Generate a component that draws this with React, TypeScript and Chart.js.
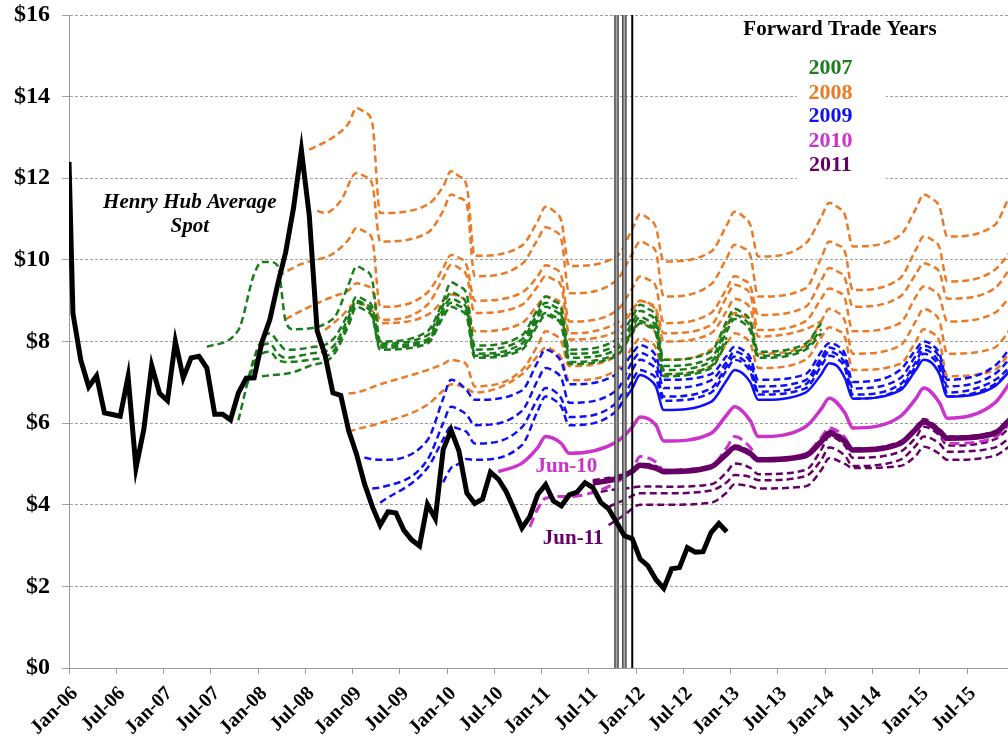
import React, { useEffect, useRef } from "react";
import { Chart, registerables } from "chart.js";

Chart.register(...registerables);

type P = [number, number];

const SERIF = "'Liberation Serif', 'Times New Roman', Times, serif";

// x axis: months counted from Jan-06 = 0; a monthly value for month k sits at k + 0.5
const xTickLabels = [
  "Jan-06", "Jul-06", "Jan-07", "Jul-07", "Jan-08", "Jul-08", "Jan-09", "Jul-09", "Jan-10", "Jul-10",
  "Jan-11", "Jul-11", "Jan-12", "Jul-12", "Jan-13", "Jul-13", "Jan-14", "Jul-14", "Jan-15", "Jul-15",
];
const yTicks = [0, 2, 4, 6, 8, 10, 12, 14, 16];
const xEnd = 119.2;

// Henry Hub average spot
const spotFirst = 12.4;
const spotMonthly = [
  8.69, 7.54, 6.89, 7.16, 6.25, 6.21, 6.17, 7.14, 4.9, 5.85, 7.41, 6.73,
  6.55, 8.0, 7.11, 7.6, 7.64, 7.35, 6.22, 6.22, 6.08, 6.74, 7.1, 7.11,
  7.99, 8.54, 9.41, 10.18, 11.27, 12.69, 11.09, 8.26, 7.67, 6.74, 6.68, 5.82,
  5.24, 4.52, 3.96, 3.5, 3.83, 3.8, 3.38, 3.14, 2.99, 4.01, 3.66, 5.35,
  5.83, 5.32, 4.29, 4.03, 4.14, 4.8, 4.63, 4.32, 3.89, 3.43, 3.71, 4.25,
  4.49, 4.09, 3.97, 4.24, 4.31, 4.54, 4.42, 4.06, 3.9, 3.57, 3.24, 3.17,
  2.67, 2.5, 2.17, 1.95, 2.43, 2.46, 2.95, 2.84, 2.85, 3.32, 3.54, 3.34,
];

// 2007 forward curves (green)
const green1: P[] = [[17,7.87],[21,8.28],[23,9.65],[24,9.95],[25,9.95],[26,9.85],[27,8.5],[28,8.3],[33,8.55],[35,9.4],[36,9.84],[37,9.75],[38,9.5],[39,8.0],[45,8.25],[47,9.0],[48,9.45],[49,9.35],[50,9.15],[51,7.9],[57,8.15],[59,8.8],[60,9.1],[61,9.0],[62,8.8],[63,7.8],[69,8.05],[71,8.6],[72,8.9],[73,8.8],[74,8.6],[75,7.55],[81,7.75],[83,8.5],[84,8.8],[85,8.7],[86,8.5],[87,7.75],[93,7.95],[95,8.45]];
const green2: P[] = [[21,6.07],[23,7.6],[24,8.05],[25,8.2],[26,8.0],[27,7.8],[30,7.85],[33,8.05],[35,8.7],[36,9.1],[37,9.02],[38,8.85],[39,7.95],[45,8.15],[47,8.9],[48,9.2],[49,9.12],[50,8.9],[51,7.8],[57,8.05],[59,8.7],[60,8.95],[61,8.87],[62,8.65],[63,7.7],[69,7.9],[71,8.45],[72,8.75],[73,8.67],[74,8.45],[75,7.4],[81,7.6],[83,8.35],[84,8.65],[85,8.57],[86,8.35],[87,7.65],[93,7.85],[95,8.3]];
const green3: P[] = [[22,6.9],[23,7.45],[24,7.9],[25,7.95],[26,7.7],[27,7.6],[30,7.7],[33,7.87],[35,8.6],[36,9.0],[37,8.92],[38,8.75],[39,7.9],[45,8.05],[47,8.8],[48,9.05],[49,8.97],[50,8.8],[51,7.7],[57,7.95],[59,8.6],[60,8.85],[61,8.77],[62,8.55],[63,7.6],[69,7.8],[71,8.35],[72,8.6],[73,8.52],[74,8.35],[75,7.3],[81,7.5],[83,8.25],[84,8.55],[85,8.47],[86,8.25],[87,7.6],[93,7.8],[95,8.2]];
const green4: P[] = [[23,7.2],[24,7.7],[25,7.75],[26,7.55],[27,7.5],[30,7.55],[33,7.75],[35,8.5],[36,8.95],[37,8.87],[38,8.65],[39,7.85],[45,8.0],[47,8.7],[48,8.95],[49,8.87],[50,8.7],[51,7.65],[57,7.85],[59,8.5],[60,8.7],[61,8.62],[62,8.45],[63,7.5],[69,7.7],[71,8.25],[72,8.5],[73,8.42],[74,8.25],[75,7.2],[81,7.4],[83,8.1]];
const green5: P[] = [[24,7.15],[28,7.25],[30,7.4],[33,7.65],[35,8.4],[36,8.85],[37,8.77],[38,8.6],[39,7.8],[45,7.95],[47,8.6],[48,8.85],[49,8.77],[50,8.6],[51,7.6],[57,7.8],[59,8.4],[60,8.65],[61,8.57],[62,8.4],[63,7.45],[69,7.65],[71,8.2],[72,8.45],[73,8.37],[74,8.2],[75,7.15],[81,7.35],[83,8.0]];

// 2008 forward curves (orange)
const orange1: P[] = [[30,12.7],[33,13.0],[35,13.35],[36,13.72],[37,13.62],[38,13.35],[39,11.15],[45,11.35],[47,11.8],[48,12.17],[49,12.05],[50,11.8],[51,10.1],[57,10.35],[59,10.95],[60,11.3],[61,11.2],[62,10.95],[63,9.85],[69,10.08],[71,10.75],[72,11.12],[73,11.02],[74,10.8],[75,9.96],[81,10.2],[83,10.85],[84,11.18],[85,11.08],[86,10.85],[87,10.08],[93,10.4],[95,11.05],[96,11.4],[97,11.3],[98,11.1],[99,10.33],[105,10.6],[107,11.25],[108,11.6],[109,11.5],[110,11.3],[111,10.57],[117,10.85],[119,11.6],[120,11.9]];
const orange2: P[] = [[31,11.2],[32,11.15],[34,11.45],[36,12.13],[37,12.05],[38,11.85],[39,10.45],[45,10.66],[47,11.2],[48,11.6],[49,11.52],[50,11.35],[51,9.6],[57,9.9],[59,10.5],[60,10.8],[61,10.72],[62,10.5],[63,9.18],[69,9.5],[71,10.15],[72,10.45],[73,10.37],[74,10.2],[75,9.1],[81,9.4],[83,10.05],[84,10.37],[85,10.3],[86,10.1],[87,9.1],[93,9.3],[95,10.05],[96,10.45],[97,10.37],[98,10.2],[99,9.26],[105,9.55],[107,10.25],[108,10.57],[109,10.5],[110,10.3],[111,9.47],[117,9.75],[119,10.2],[120,10.45]];
const orange3: P[] = [[26,9.6],[29,9.9],[33,10.15],[35,10.5],[36,10.78],[37,10.7],[38,10.5],[39,8.85],[45,9.2],[47,9.8],[48,10.12],[49,10.05],[50,9.85],[51,9.0],[57,9.2],[59,9.6],[60,9.87],[61,9.8],[62,9.6],[63,8.49],[69,8.75],[71,9.3],[72,9.59],[73,9.52],[74,9.35],[75,8.45],[81,8.7],[83,9.3],[84,9.6],[85,9.52],[86,9.35],[87,8.65],[93,8.85],[95,9.5],[96,9.8],[97,9.72],[98,9.55],[99,8.85],[105,9.1],[107,9.65],[108,9.92],[109,9.85],[110,9.7],[111,9.05],[117,9.3],[119,9.8],[120,10.05]];
const orange4: P[] = [[27,8.55],[30,8.85],[33,9.1],[35,9.25],[36,9.43],[37,9.38],[38,9.25],[39,8.53],[45,8.9],[47,9.55],[48,9.88],[49,9.8],[50,9.6],[51,8.7],[57,8.9],[59,9.35],[60,9.6],[61,9.52],[62,9.35],[63,8.2],[69,8.45],[71,8.8],[72,9.0],[73,8.95],[74,8.8],[75,8.2],[81,8.4],[83,9.1],[84,9.39],[85,9.32],[86,9.15],[87,8.28],[93,8.5],[95,9.05],[96,9.3],[97,9.23],[98,9.05],[99,8.25],[105,8.45],[107,9.1],[108,9.35],[109,9.28],[110,9.1],[111,8.49],[117,8.7],[119,9.1],[120,9.3]];
const orange5: P[] = [[32,8.28],[34,8.6],[36,8.95],[37,8.9],[38,8.75],[39,8.45],[45,8.65],[47,9.0],[48,9.15],[49,9.1],[50,8.95],[51,8.25],[57,8.45],[59,8.9],[60,9.1],[61,9.05],[62,8.9],[63,8.05],[69,8.25],[71,8.75],[72,9.0],[73,8.93],[74,8.75],[75,8.0],[81,8.2],[83,8.75],[84,9.05],[85,8.98],[86,8.8],[87,8.12],[93,8.3],[95,8.5]];
const orange6: P[] = [[35,6.73],[36,6.75],[39,6.95],[45,7.3],[47,7.45],[48,7.55],[49,7.52],[50,7.42],[51,6.9],[57,7.3],[59,7.9],[60,8.25],[61,8.18],[62,8.0],[63,7.4],[69,7.65],[71,8.2],[72,8.45],[73,8.38],[74,8.2],[75,7.55],[81,7.8],[83,8.4],[84,8.7],[85,8.62],[86,8.45],[87,7.7],[93,7.9],[95,8.5],[96,8.8],[97,8.72],[98,8.5],[99,7.7],[105,7.9],[107,8.5],[108,8.8],[109,8.72],[110,8.5],[111,7.7],[117,7.85],[119,8.3],[120,8.5]];
const orange7: P[] = [[35,5.79],[36,5.85],[39,6.0],[45,6.45],[47,6.8],[48,6.95],[49,6.92],[50,6.85],[51,6.75],[57,7.2],[59,7.65],[60,7.85],[61,7.78],[62,7.6],[63,7.05],[69,7.3],[71,7.85],[72,8.08],[73,8.0],[74,7.85],[75,7.2],[81,7.4],[83,7.95],[84,8.2],[85,8.13],[86,7.95],[87,7.35],[93,7.55],[95,8.1],[96,8.35],[97,8.28],[98,8.1],[99,7.3],[105,7.45],[107,8.0],[108,8.3],[109,8.22],[110,8.0],[111,7.15],[117,7.3],[119,7.75],[120,8.0]];

// 2009 forward curves (blue)
const blue1: P[] = [[37,5.15],[39,5.1],[45,5.58],[47,6.6],[48,7.06],[49,6.98],[50,6.8],[51,6.57],[57,6.8],[59,7.5],[60,7.8],[61,7.72],[62,7.5],[63,6.95],[69,7.2],[71,7.7],[72,7.91],[73,7.84],[74,7.65],[75,7.06],[81,7.2],[83,7.65],[84,7.87],[85,7.8],[86,7.6],[87,7.06],[93,7.2],[95,7.75],[96,7.96],[97,7.9],[98,7.7],[99,7.01],[105,7.3],[107,7.8],[108,8.0],[109,7.93],[110,7.7],[111,7.06],[117,7.4],[119,7.85],[120,8.1]];
const blue2: P[] = [[38,4.4],[39,4.42],[45,5.1],[47,6.0],[48,6.4],[49,6.33],[50,6.2],[51,5.95],[57,6.3],[59,7.05],[60,7.35],[61,7.28],[62,7.1],[63,6.5],[69,6.8],[71,7.5],[72,7.72],[73,7.65],[74,7.5],[75,6.86],[81,7.05],[83,7.5],[84,7.75],[85,7.68],[86,7.5],[87,6.9],[93,7.05],[95,7.6],[96,7.85],[97,7.78],[98,7.6],[99,6.85],[105,7.1],[107,7.65],[108,7.9],[109,7.83],[110,7.6],[111,6.9],[117,7.2],[119,7.6],[120,7.85]];
const blue3: P[] = [[39,4.05],[45,4.9],[47,5.6],[48,5.91],[49,5.86],[50,5.78],[51,5.5],[57,5.9],[59,6.6],[60,6.86],[61,6.8],[62,6.6],[63,6.15],[69,6.5],[71,7.3],[72,7.55],[73,7.48],[74,7.3],[75,6.65],[81,6.85],[83,7.4],[84,7.63],[85,7.56],[86,7.35],[87,6.77],[93,6.95],[95,7.5],[96,7.75],[97,7.68],[98,7.45],[99,6.7],[105,6.95],[107,7.5],[108,7.8],[109,7.72],[110,7.45],[111,6.75],[117,7.05],[119,7.4],[120,7.65]];
const blue4: P[] = [[47,4.55],[48,4.9],[49,5.0],[50,5.12],[51,5.1],[57,5.46],[59,6.3],[60,6.65],[61,6.58],[62,6.4],[63,5.95],[69,6.3],[71,7.05],[72,7.3],[73,7.23],[74,7.1],[75,6.55],[81,6.75],[83,7.3],[84,7.55],[85,7.48],[86,7.25],[87,6.7],[93,6.85],[95,7.4],[96,7.65],[97,7.58],[98,7.35],[99,6.6],[105,6.85],[107,7.4],[108,7.7],[109,7.62],[110,7.35],[111,6.65],[117,6.95],[119,7.3],[120,7.55]];
const blueSolid: P[] = [[69,6.3],[71,6.85],[72,7.18],[73,7.1],[74,6.9],[75,6.32],[81,6.52],[83,7.05],[84,7.3],[85,7.22],[86,7.0],[87,6.57],[93,6.75],[95,7.2],[96,7.47],[97,7.4],[98,7.1],[99,6.6],[105,6.8],[107,7.3],[108,7.55],[109,7.48],[110,7.2],[111,6.65],[117,6.9],[119,7.3],[120,7.55]];

// 2010 forward curves (magenta)
const magentaJun10: P[] = [[54,4.81],[57,5.02],[59,5.4],[60,5.67],[62,5.5],[63,5.26],[69,5.54],[71,5.9],[72,6.15],[74,5.95],[75,5.56],[81,5.75],[83,6.2],[84,6.4],[86,6.05],[87,5.67],[93,5.91],[95,6.35],[96,6.61],[98,6.25],[99,5.88],[105,6.16],[107,6.6],[108,6.86],[110,6.5],[111,6.12],[117,6.49],[119,7.0],[120,7.25]];
const magentaDash: P[] = [[58,3.46],[59,3.9],[60,4.16],[62,4.2],[63,4.2],[66,4.3],[69,4.55],[71,4.85],[72,5.18],[74,5.05],[75,4.85],[81,4.95],[83,5.4],[84,5.67],[86,5.4],[87,5.1],[93,5.25],[95,5.65],[96,5.88],[98,5.65],[99,5.35],[105,5.5],[107,5.85],[108,6.05],[110,5.8],[111,5.5],[117,5.65],[119,6.0],[120,6.2]];

// 2011 forward curves (purple)
const purpleJun11: P[] = [[66,4.53],[69,4.64],[71,4.82],[72,4.97],[74,4.9],[75,4.81],[81,4.93],[83,5.25],[84,5.4],[86,5.25],[87,5.1],[93,5.2],[95,5.55],[96,5.75],[98,5.55],[99,5.34],[105,5.5],[107,5.85],[108,6.03],[110,5.8],[111,5.63],[117,5.75],[119,6.1],[120,6.3]];
const purple0: P[] = [[66,4.6],[69,4.7],[71,4.85],[72,5.0],[74,4.95],[75,4.85],[81,4.95],[83,5.25],[84,5.45],[86,5.3],[87,5.12],[93,5.25],[95,5.6],[96,5.82],[98,5.6],[99,5.38],[105,5.55],[107,5.9],[108,6.1],[110,5.85],[111,5.67],[117,5.8],[119,6.15],[120,6.35]];
const purple1: P[] = [[67,4.32],[69,4.38],[71,4.42],[72,4.45],[74,4.45],[75,4.44],[81,4.5],[83,4.8],[84,5.01],[86,4.9],[87,4.75],[93,4.85],[95,5.35],[96,5.67],[98,5.45],[99,5.15],[105,5.3],[107,5.65],[108,5.91],[110,5.7],[111,5.45],[117,5.6],[119,5.9],[120,6.05]];
const purple2: P[] = [[68,3.95],[70,4.12],[72,4.28],[75,4.28],[81,4.35],[83,4.55],[84,4.73],[86,4.68],[87,4.6],[93,4.7],[95,5.1],[96,5.4],[98,5.2],[99,4.95],[105,5.1],[107,5.45],[108,5.67],[110,5.5],[111,5.3],[117,5.4],[119,5.65],[120,5.8]];
const purple3: P[] = [[68,3.5],[70,3.75],[72,4.0],[75,4.0],[81,4.05],[83,4.3],[84,4.5],[86,4.45],[87,4.4],[93,4.45],[95,4.85],[96,5.14],[98,5.0],[99,4.9],[105,4.95],[107,5.2],[108,5.42],[110,5.25],[111,5.1],[117,5.2],[119,5.45],[120,5.6]];

// trade-date markers (Oct-11, Nov-11, Dec-11)
const greyMarkerMonths = [69, 70];
const blackMarkerMonths = [71];

const legendYears = ["2007", "2008", "2009", "2010", "2011"];

const COLORS = {
  green: "#1b7d1b",
  orange: "#ea7a26",
  blue: "#1010f5",
  magenta: "#cc33cc",
  purple: "#660066",
};
const yearColors = [COLORS.green, COLORS.orange, COLORS.blue, COLORS.magenta, COLORS.purple];

const toPts = (arr: P[]) => arr.map(([k, v]) => ({ x: k + 0.5, y: v }));

const curve = (arr: P[], color: string, width = 2.5, dash: number[] = [7, 4]) => ({
  data: toPts(arr),
  borderColor: color,
  borderWidth: width,
  borderDash: dash,
  pointRadius: 0,
  fill: false,
  cubicInterpolationMode: "monotone" as const,
});

const vline = (k: number, color: string, width: number) => ({
  data: [
    { x: k + 0.5, y: 0 },
    { x: k + 0.5, y: 16 },
  ],
  borderColor: color,
  borderWidth: width,
  pointRadius: 0,
  tension: 0,
  fill: false,
});

const textPlugin = {
  id: "textNotes",
  beforeDatasetsDraw(chart: any) {
    const { ctx, scales } = chart;
    const x = scales.x;
    const y = scales.y;
    const l = x.getPixelForValue(92.4);
    const r = x.getPixelForValue(103.7);
    const t = y.getPixelForValue(15.0);
    const b = y.getPixelForValue(11.85);
    ctx.save();
    ctx.fillStyle = "#ffffff";
    ctx.fillRect(l, t, r - l, b - t);
    ctx.restore();
  },
  afterDatasetsDraw(chart: any) {
    const { ctx, scales } = chart;
    const x = scales.x;
    const y = scales.y;
    const put = (text: string, u: number, v: number, font: string, color: string) => {
      ctx.save();
      ctx.font = font;
      ctx.fillStyle = color;
      ctx.textAlign = "center";
      ctx.textBaseline = "middle";
      ctx.fillText(text, x.getPixelForValue(u), y.getPixelForValue(v));
      ctx.restore();
    };
    put("Henry Hub Average", 15.33, 11.4, `italic bold 21px ${SERIF}`, "#000");
    put("Spot", 15.33, 10.82, `italic bold 21px ${SERIF}`, "#000");
    put("Jun-10", 63.14, 4.93, `bold 21px ${SERIF}`, COLORS.magenta);
    put("Jun-11", 64.0, 3.17, `bold 21px ${SERIF}`, COLORS.purple);
    put("Forward Trade Years", 97.87, 15.64, `bold 21px ${SERIF}`, "#000");
    const yearV = [14.69, 14.09, 13.51, 12.9, 12.31];
    legendYears.forEach((yr, i) => put(yr, 96.66, yearV[i], `bold 22px ${SERIF}`, yearColors[i]));
  },
};

export default function App() {
  const ref = useRef<HTMLCanvasElement | null>(null);

  useEffect(() => {
    if (!ref.current) return;
    const datasets: any[] = [
      {
        data: [{ x: 0, y: spotFirst }, ...spotMonthly.map((v, i) => ({ x: i + 0.5, y: v }))],
        borderColor: "#000",
        borderWidth: 5,
        pointRadius: 0,
        tension: 0,
        fill: false,
      },
      ...greyMarkerMonths.map((k) => vline(k, "#a8a8a8", 2)),
      ...blackMarkerMonths.map((k) => vline(k, "#000", 2)),
      ...greyMarkerMonths.map((k) => vline(k, "#3a3a3a", 4.5)),
      curve(purpleJun11, COLORS.purple, 5.5, []),
      curve(magentaJun10, COLORS.magenta, 3.5, []),
      curve(magentaDash, COLORS.magenta, 3, [10, 5]),
      curve(purple0, COLORS.purple, 2.5),
      curve(purple1, COLORS.purple, 2.5),
      curve(purple2, COLORS.purple, 2.5),
      curve(purple3, COLORS.purple, 2.5),
      curve(blueSolid, COLORS.blue, 2.5, []),
      curve(blue1, COLORS.blue, 2.5),
      curve(blue2, COLORS.blue, 2.5),
      curve(blue3, COLORS.blue, 2.5),
      curve(blue4, COLORS.blue, 2.5),
      curve(green1, COLORS.green, 2.5),
      curve(green2, COLORS.green, 2.5),
      curve(green3, COLORS.green, 2.5),
      curve(green4, COLORS.green, 2.5),
      curve(green5, COLORS.green, 2.5),
      curve(orange1, COLORS.orange, 2.5),
      curve(orange2, COLORS.orange, 2.5),
      curve(orange3, COLORS.orange, 2.5),
      curve(orange4, COLORS.orange, 2.5),
      curve(orange5, COLORS.orange, 2.5),
      curve(orange6, COLORS.orange, 2.5),
      curve(orange7, COLORS.orange, 2.5),
    ];

    const chart = new Chart(ref.current, {
      type: "line",
      data: { datasets },
      plugins: [textPlugin],
      options: {
        responsive: false,
        animation: false,
        devicePixelRatio: 1,
        events: [],
        layout: { padding: { top: 15, left: 0, right: 0, bottom: 0 } },
        plugins: { legend: { display: false }, tooltip: { enabled: false } },
        scales: {
          x: {
            type: "linear",
            min: 0,
            max: xEnd,
            afterBuildTicks: (axis: any) => {
              axis.ticks = xTickLabels.map((_, i) => ({ value: i * 6 }));
            },
            afterFit: (axis: any) => {
              axis.height = 72;
            },
            ticks: {
              autoSkip: false,
              maxRotation: 45,
              minRotation: 45,
              padding: 8,
              labelOffset: 6,
              color: "#000",
              font: { family: SERIF, size: 20, weight: "bold" },
              callback: (_v: any, i: number) => xTickLabels[i] ?? "",
            },
            grid: { drawOnChartArea: false, drawTicks: true, tickLength: 6, color: "#9a9a9a" },
            border: { color: "#9a9a9a", width: 1 },
          },
          y: {
            type: "linear",
            min: 0,
            max: 16,
            afterBuildTicks: (axis: any) => {
              axis.ticks = yTicks.map((v) => ({ value: v }));
            },
            afterFit: (axis: any) => {
              axis.width = 69;
              axis.paddingTop = 0;
              axis.paddingBottom = 0;
            },
            ticks: {
              padding: 12,
              color: "#000",
              font: { family: SERIF, size: 24, weight: "bold" },
              callback: (v: any) => "$" + v,
            },
            grid: { color: "#a0a0a0", lineWidth: 1, tickLength: 7, drawTicks: true, tickBorderDash: [] },
            border: { color: "#9a9a9a", width: 1, dash: [3, 2] },
          },
        },
      } as any,
    });
    return () => chart.destroy();
  }, []);

  return (
    <div style={{ position: "absolute", left: 0, top: 0, width: 1008, height: 740, background: "#fff" }}>
      <canvas ref={ref} width={1008} height={740} style={{ display: "block" }} />
    </div>
  );
}
